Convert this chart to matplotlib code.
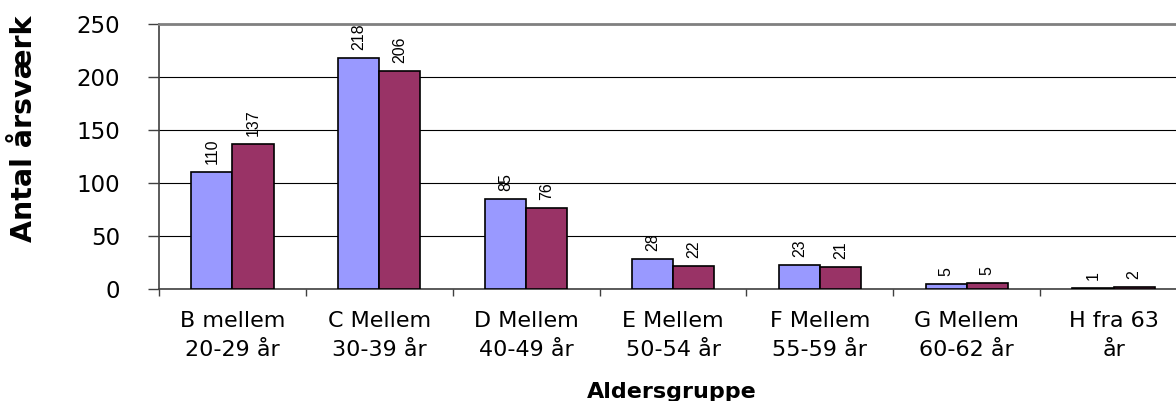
import matplotlib
matplotlib.use("Agg")
import matplotlib.pyplot as plt
import numpy as np

plt.rcParams['font.family'] = ['DejaVu Sans']

categories = ["B mellem\n20-29 år", "C Mellem\n30-39 år", "D Mellem\n40-49 år",
              "E Mellem\n50-54 år", "F Mellem\n55-59 år", "G Mellem\n60-62 år",
              "H fra 63\når"]
series1 = [110, 218, 85, 28, 23, 4.6, 1]
series2 = [137, 206, 76, 22, 21, 5.4, 2]
yticks = [0, 50, 100, 150, 200, 250]

W, H = 1176, 401
fig = plt.figure(figsize=(W / 100, H / 100), dpi=100)
left_px, right_px, top_px, bot_px = 159, 1187, 24, 289
ax = fig.add_axes([left_px / W, 1 - bot_px / H, (right_px - left_px) / W, (bot_px - top_px) / H])

x = np.arange(len(categories))
bw = 0.28
b1 = ax.bar(x - bw / 2, series1, bw, color="#9999FF", edgecolor="black", linewidth=1.2, zorder=3)
b2 = ax.bar(x + bw / 2, series2, bw, color="#993366", edgecolor="black", linewidth=1.2, zorder=3)

for bars, vals in ((b1, series1), (b2, series2)):
    for rect, v in zip(bars, vals):
        ax.annotate(f"{v:.0f}", (rect.get_x() + rect.get_width() / 2, rect.get_height()),
                    xytext=(0, 8), textcoords="offset pixels", rotation=90,
                    ha="center", va="bottom", fontsize=11.5, family="Liberation Sans")

ax.set_xlim(-0.5, len(categories) - 0.5)
ax.set_ylim(0, 250)
ax.set_yticks(yticks)
ax.set_yticklabels([str(t) for t in yticks], fontsize=16.5)
ax.yaxis.grid(True, color="black", linewidth=0.8, zorder=0)
ax.tick_params(axis="y", direction="out", length=8, width=1, pad=20, color="#404040")

ax.set_xticks(np.arange(len(categories) + 1) - 0.5)
ax.set_xticklabels([])
ax.set_xticks(x, minor=True)
ax.set_xticklabels(categories, minor=True, fontsize=16, linespacing=1.55)
ax.tick_params(axis="x", which="major", direction="out", length=5, width=1, color="#404040")
ax.tick_params(axis="x", which="minor", length=0, pad=16)

ax.spines["right"].set_visible(False)
ax.spines["top"].set_color("#808080")
ax.spines["top"].set_linewidth(2)
ax.spines["left"].set_color("#404040")
ax.spines["left"].set_linewidth(1.2)
ax.spines["bottom"].set_color("#404040")
ax.spines["bottom"].set_linewidth(1.2)
ax.set_axisbelow(True)

fig.text(24 / W, 1 - 129 / H, "Antal årsværk", rotation=90, ha="center", va="center",
         fontsize=20.5, fontweight="bold")
fig.text(672 / W, 1 - 392 / H, "Aldersgruppe", ha="center", va="center",
         fontsize=16, fontweight="bold")

fig.savefig("out.png", dpi=100)
